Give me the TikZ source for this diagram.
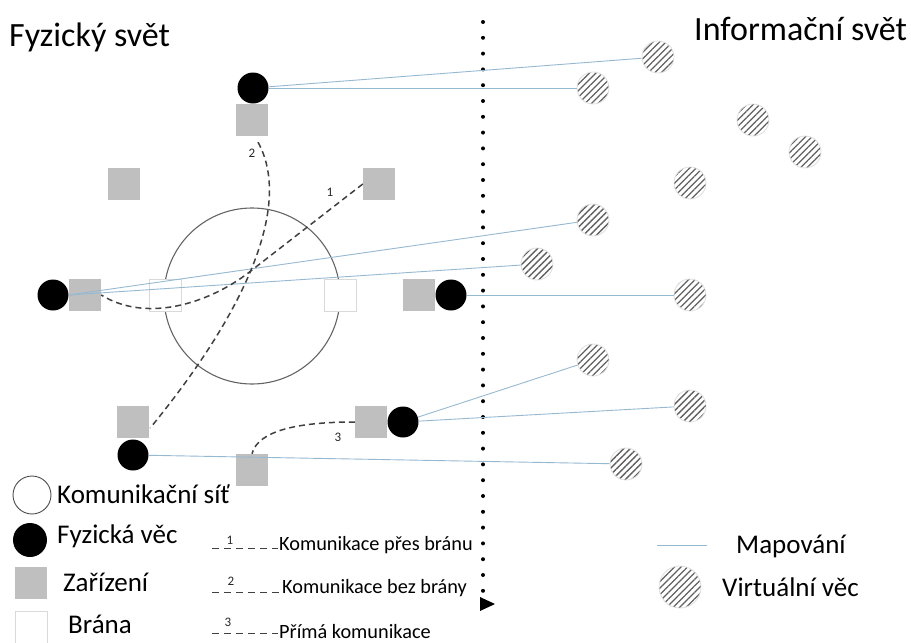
\documentclass[tikz,border=0pt]{standalone}
\usepackage{fontspec}
\setmainfont{Carlito}
\usetikzlibrary{patterns.meta}
\definecolor{devgray}{RGB}{191,191,191}
\definecolor{mapblue}{RGB}{150,185,210}
\definecolor{commgray}{RGB}{64,64,64}
\definecolor{netgray}{RGB}{100,100,100}
\tikzset{
  thing/.style={circle, fill=black, minimum size=31pt, inner sep=0pt},
  device/.style={rectangle, fill=devgray, minimum size=32pt, inner sep=0pt},
  gateway/.style={rectangle, draw=gray!30, fill=white, minimum size=32pt, inner sep=0pt, line width=0.8pt},
  virt/.style={circle, minimum size=32pt, inner sep=0pt, draw=gray!25, line width=0.8pt,
    pattern={Lines[angle=45,distance=4.6pt,line width=1.3pt]}, pattern color=gray!75!black},
  map/.style={draw=mapblue, line width=0.9pt},
  comm/.style={draw=commgray, line width=1.5pt, dash pattern=on 6pt off 4pt},
  lbl/.style={font=\fontsize{13}{14}\selectfont, text=black!85, inner sep=1pt},
  title/.style={font=\fontsize{34}{38}\selectfont, anchor=west, inner sep=0pt},
  legtext/.style={font=\fontsize{27}{30}\selectfont, anchor=west, inner sep=0pt},
  legsmall/.style={font=\fontsize{20.3}{24}\selectfont, anchor=west, inner sep=0pt},
}
\begin{document}
\begin{tikzpicture}[x=1pt,y=-1pt]
\useasboundingbox (0,0) rectangle (911,643);
% titles
\node[title] (t1) at (9,37) {Fyzický svět};
\node[title] (t2) at (694,29) {Informační svět};
% dotted divider
\coordinate (dtop) at (483,22);
\coordinate (dbot) at (483,592);
\draw[line width=4pt, line cap=round, dash pattern=on 0pt off 15.8pt] (dtop) -- (dbot);
\fill (480,597) -- (495,604) -- (480,611) -- cycle;
% network
\node[circle, draw=netgray, line width=1.1pt, minimum size=176pt, inner sep=0pt] (net) at (252,296) {};
\node[gateway] (g1) at (165,295) {};
\node[gateway] (g2) at (340,295) {};
% devices & things
\node[thing] (p1) at (253,88) {};
\node[device] (d1) at (252,120) {};
\node[device] (d2) at (124,184) {};
\node[device] (d3) at (379,184) {};
\node[thing] (p2) at (53,295) {};
\node[device] (d4) at (85,295) {};
\node[device] (d5) at (419,295) {};
\node[thing] (p3) at (451,295) {};
\node[device] (d6) at (133,422) {};
\node[thing] (p4) at (133,455) {};
\node[device] (d7) at (371,422) {};
\node[thing] (p5) at (403,422) {};
\node[device] (d8) at (252,470) {};
% virtual things
\node[virt] (v1) at (658,57) {};
\node[virt] (v2) at (593,88) {};
\node[virt] (v3) at (753,120) {};
\node[virt] (v4) at (805,152) {};
\node[virt] (v5) at (690,183) {};
\node[virt] (v6) at (593,220) {};
\node[virt] (v7) at (537,264) {};
\node[virt] (v8) at (690,295) {};
\node[virt] (v9) at (593,360) {};
\node[virt] (v10) at (690,406) {};
\node[virt] (v11) at (626,464) {};
% mapping lines
\draw[map] (p1) -- (v1);
\draw[map] (p1) -- (v2);
\draw[map] (d4.west) -- (v6);
\draw[map] (d4.west) -- (v7);
\draw[map] (p3) -- (v8);
\draw[map] (p5) -- (v9);
\draw[map] (p5) -- (v10);
\draw[map] (p4) -- (v11);
% communication
\draw[comm] (d3.west) -- (252,270) .. controls (215,300) and (150,325) .. (d4.east);
\draw[comm] ([shift={(6,6)}]d1.south) .. controls (290,200) and (255,300) .. ([shift={(1,6)}]d6.east);
\draw[comm] (d7.west) .. controls (300,422) and (258,430) .. (d8.north);
\node[lbl] (n1) at (330,192) {1};
\node[lbl] (n2) at (252,153) {2};
\node[lbl] (n3) at (338,437) {3};
% legend left
\node[circle, draw=black!70, line width=0.9pt, fill=white, minimum size=38pt, inner sep=0pt] (lnet) at (32,495) {};
\node[legtext] (lnett) at (57,494) {Komunikační síť};
\node[thing, minimum size=34pt] (lp) at (30,540) {};
\node[legtext] (lpt) at (57,536) {Fyzická věc};
\node[device] (ld) at (31,583) {};
\node[legtext] (ldt) at (63,582) {Zařízení};
\node[gateway] (lg) at (31,627) {};
\node[legtext] (lgt) at (68,624) {Brána};
% legend dashes
\coordinate (a1) at (212,548); \coordinate (b1) at (278,548);
\coordinate (a2) at (212,592); \coordinate (b2) at (280,592);
\coordinate (a3) at (212,633); \coordinate (b3) at (278,633);
\draw[draw=commgray, line width=1pt, dash pattern=on 7pt off 5pt] (a1) -- (b1);
\draw[draw=commgray, line width=1pt, dash pattern=on 7pt off 5pt] (a2) -- (b2);
\draw[draw=commgray, line width=1pt, dash pattern=on 7pt off 5pt] (a3) -- (b3);
\node[lbl] (ln1) at (230,540) {1};
\node[lbl] (ln2) at (231,581) {2};
\node[lbl] (ln3) at (228,622) {3};
\node[legsmall] (lc1) at (279,545) {Komunikace přes bránu};
\node[legsmall] (lc2) at (282,588) {Komunikace bez brány};
\node[legsmall] (lc3) at (279,632) {Přímá komunikace};
% legend right
\coordinate (m1) at (657,545); \coordinate (m2) at (707,545);
\draw[map] (m1) -- (m2);
\node[legtext] (lmt) at (736,546) {Mapování};
\node[virt, minimum size=42pt] (lv) at (680,587) {};
\node[legtext] (lvt) at (722,587) {Virtuální věc};
\end{tikzpicture}
\end{document}
